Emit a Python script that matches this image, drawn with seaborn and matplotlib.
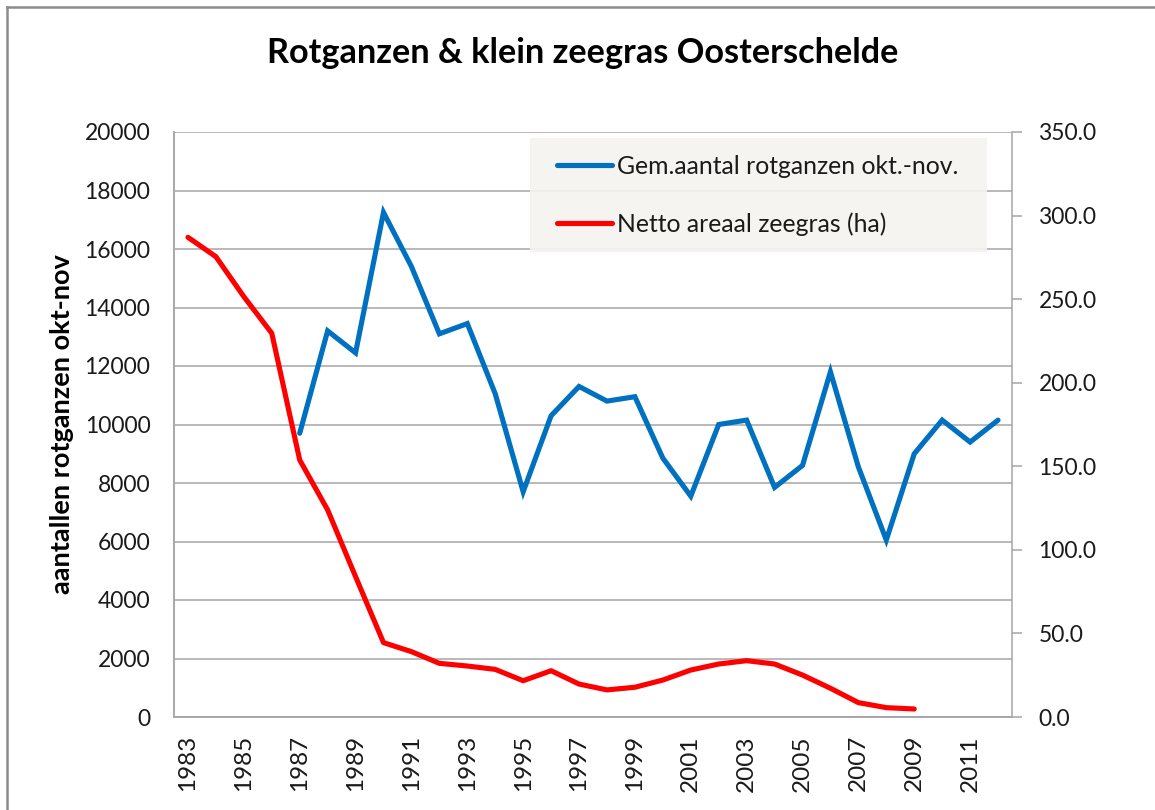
import numpy as np
import pandas as pd
import matplotlib
matplotlib.use("Agg")
import matplotlib.pyplot as plt
from matplotlib.patches import Rectangle
from matplotlib.lines import Line2D
import seaborn as sns

# Jaren 1983-2012
years = list(range(1983, 2013))

# Gemiddeld aantal rotganzen okt.-nov. (telling vanaf 1987)
geese = [np.nan, np.nan, np.nan, np.nan,
         9700, 13200, 12450, 17250, 15400, 13100, 13450, 11050, 7700,
         10300, 11300, 10800, 10950, 8850, 7550, 10000, 10150, 7850,
         8600, 11800, 8550, 6050, 9000, 10150, 9400, 10150]

# Netto areaal klein zeegras in ha (t/m 2009)
seagrass = [287.0, 275.4, 251.5, 229.6, 153.8, 123.9, 84.0, 44.5, 39.1,
            32.1, 30.5, 28.5, 21.7, 27.7, 19.7, 16.2, 17.8, 22.1, 28.1,
            31.7, 33.7, 31.7, 25.1, 17.2, 8.6, 5.6, 4.8,
            np.nan, np.nan, np.nan]

left_ticks = list(range(0, 20001, 2000))
right_ticks = [0, 50, 100, 150, 200, 250, 300, 350]
year_labels = [str(y) for y in years[::2]]

label_geese = "Gem.aantal rotganzen okt.-nov."
label_grass = "Netto areaal zeegras (ha)"

df = pd.DataFrame({"pos": np.arange(len(years)), "jaar": years,
                   "rotganzen": geese, "zeegras": seagrass})

BLUE = "#0070C0"
RED = "#FF0000"
GRID = "#A6A6A6"
FONT = ["Lato", "DejaVu Sans"]

plt.rcParams["font.family"] = FONT
plt.rcParams["text.color"] = "#1a1a1a"

W, H = 1155, 810
fig = plt.figure(figsize=(W / 100, H / 100), dpi=100)
fig.patch.set_facecolor("white")

x0, x1, y0, y1 = 174, 1012, 132, 717
ax = fig.add_axes([x0 / W, 1 - y1 / H, (x1 - x0) / W, (y1 - y0) / H])
ax2 = ax.twinx()

sns.lineplot(data=df.dropna(subset=["rotganzen"]), x="pos", y="rotganzen",
             ax=ax, color=BLUE, lw=3.7, solid_joinstyle="miter",
             solid_capstyle="round")
sns.lineplot(data=df.dropna(subset=["zeegras"]), x="pos", y="zeegras",
             ax=ax2, color=RED, lw=3.7, solid_capstyle="round")

# Linker as
ax.set_ylim(0, 20000)
ax.set_yticks(left_ticks)
ax.set_yticklabels([str(v) for v in left_ticks])
ax.yaxis.grid(True, color=GRID, lw=1.1)
ax.set_axisbelow(True)
ax.tick_params(axis="y", length=0, pad=17, labelsize=16.5, colors="#1a1a1a")
ax.set_ylabel("aantallen rotganzen okt-nov", fontsize=19.5,
              fontweight="bold", va="center", color="black")
ax.yaxis.set_label_coords((62 - x0) / (x1 - x0), 0.5)

# Categorie-as
ax.set_xlim(-0.5, len(years) - 0.5)
ax.set_xticks(np.arange(0, len(years), 2))
ax.set_xticklabels(year_labels, rotation=90)
ax.tick_params(axis="x", length=0, pad=13, labelsize=17.5, colors="#1a1a1a")
ax.set_xlabel("")

# Rechter as
ax2.set_ylim(0, 350)
ax2.set_yticks(right_ticks)
ax2.set_yticklabels([f"{v:.1f}" for v in right_ticks])
ax2.tick_params(axis="y", length=7, width=1.1, color=GRID, pad=12,
                labelsize=16.5, colors="#1a1a1a")
ax2.tick_params(axis="y", color=GRID)
ax2.set_ylabel("")

for a in (ax, ax2):
    for side in ("top", "right", "left", "bottom"):
        a.spines[side].set_color(GRID)
        a.spines[side].set_linewidth(1.1)
    a.spines["top"].set_visible(False)
ax.spines["right"].set_visible(False)

# Titel
fig.text(583 / W, 1 - 53 / H, "Rotganzen & klein zeegras Oosterschelde",
         ha="center", va="center", fontsize=24.7, fontweight="bold",
         color="black")

# Legenda met lichtgrijze achtergrond
ax2.add_patch(Rectangle((530 / W, 1 - 252 / H), (987 - 530) / W,
                        (252 - 138) / H, transform=fig.transFigure,
                        facecolor="#F4F3EF", edgecolor="none", alpha=0.9,
                        zorder=5, clip_on=False))
handles = [Line2D([], [], color=BLUE, lw=3.7, solid_capstyle="round"),
           Line2D([], [], color=RED, lw=3.7, solid_capstyle="round")]
leg = ax2.legend(handles, [label_geese, label_grass], loc="upper left",
                 bbox_to_anchor=(557 / W, 1 - 155 / H),
                 bbox_transform=fig.transFigure, frameon=False,
                 fontsize=17.8, handlelength=2.23, handletextpad=0.18,
                 labelspacing=1.39, borderpad=0, borderaxespad=0)
leg.set_zorder(6)

# Rand van het diagramgebied
fig.add_artist(Line2D([7 / W, 7 / W], [0, 1 - 7 / H], transform=fig.transFigure,
                      color="#8C8C8C", lw=1.8))
fig.add_artist(Line2D([7 / W, 1], [1 - 7 / H, 1 - 7 / H],
                      transform=fig.transFigure, color="#8C8C8C", lw=1.8))

fig.savefig("out.png", dpi=100)
